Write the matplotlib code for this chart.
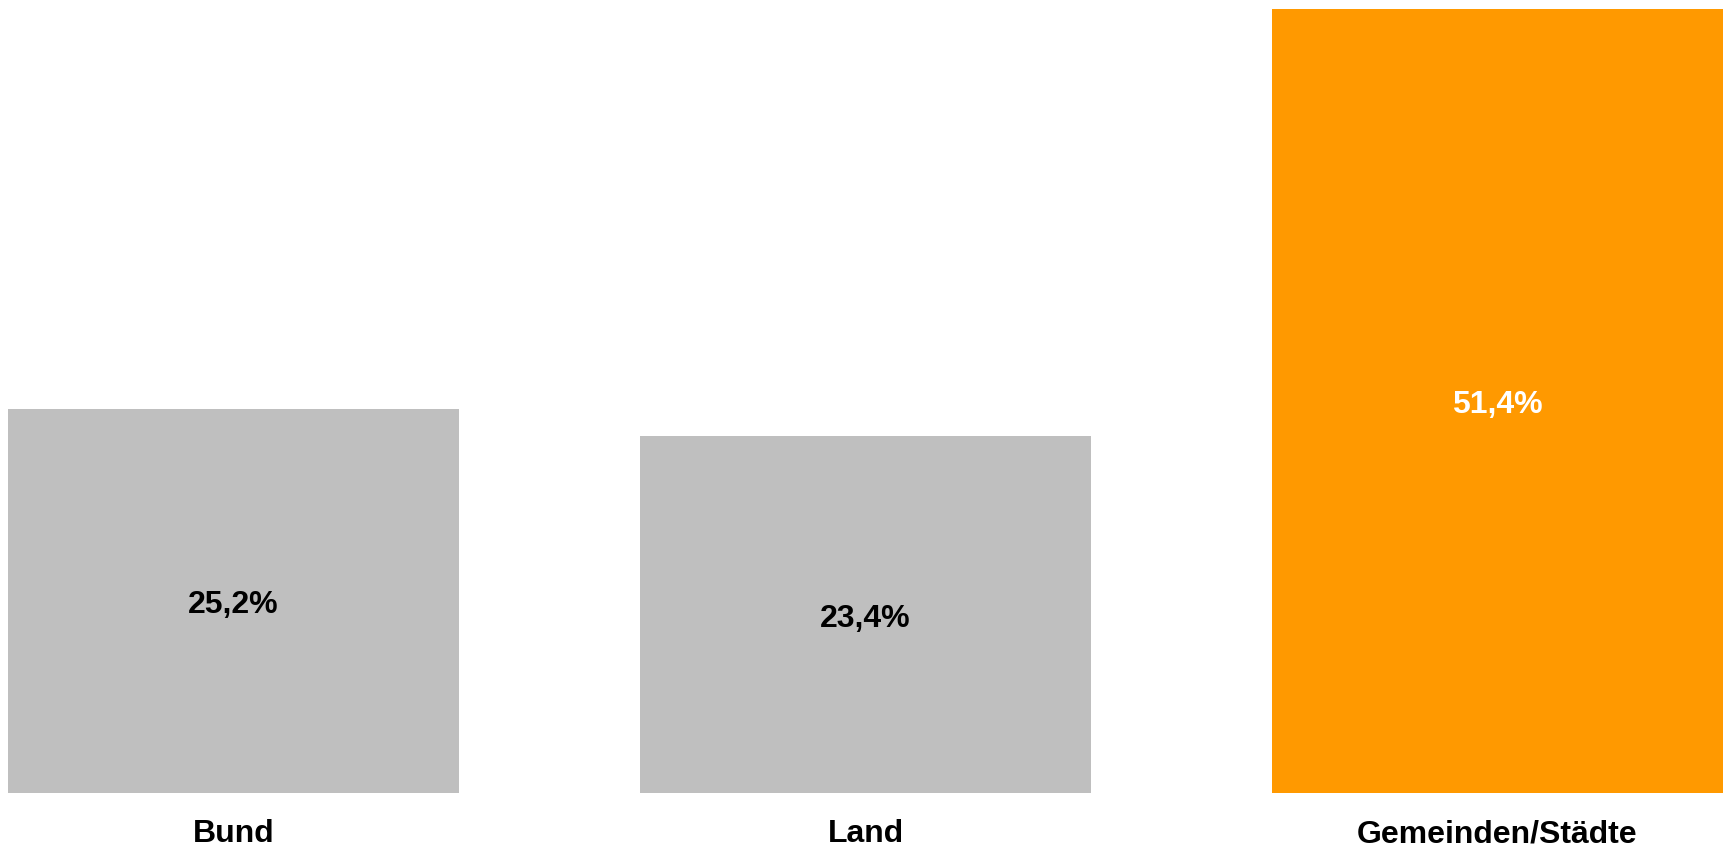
import matplotlib.pyplot as plt
import numpy as np

# Anteile nach Gebietskörperschaft
categories = ['Bund', 'Land', 'Gemeinden/Städte']
shares = [25.2, 23.4, 51.4]
bar_colors = ['#BFBFBF', '#BFBFBF', '#FF9900']
text_colors = ['black', 'black', 'white']

plt.rcParams['font.family'] = ['Liberation Sans', 'DejaVu Sans']

W, H = 1727, 845
fig = plt.figure(figsize=(W / 100, H / 100 + 1e-4), dpi=100)
# Plotbereich in Pixeln: links 8, rechts 1723, oben 9, Basislinie 793
ax = fig.add_axes([8 / W, 1 - 793 / H, (1723 - 8) / W, (793 - 9) / H])

x = np.arange(len(categories))
width = 0.714
bars = ax.bar(x, shares, width, color=bar_colors)

ax.set_xlim(-width / 2, len(categories) - 1 + width / 2)
ax.set_ylim(0, max(shares))
ax.axis('off')

# Werte mittig in den Balken (Grundlinie knapp unter der Mitte)
for bar, val, tc in zip(bars, shares, text_colors):
    ax.annotate(f'{val:.1f}%'.replace('.', ','),
                xy=(bar.get_x() + bar.get_width() / 2, val / 2),
                xytext=(0, -8.8), textcoords='offset points',
                ha='center', va='baseline', fontsize=23, fontweight='bold',
                color=tc)

# Kategorien unter den Balken
for xi, cat in zip(x, categories):
    ax.annotate(cat, xy=(xi, 0), xytext=(0, -35.3), textcoords='offset points',
                ha='center', va='baseline', fontsize=23, fontweight='bold',
                color='black', annotation_clip=False)

fig.savefig('out.png', dpi=100)
